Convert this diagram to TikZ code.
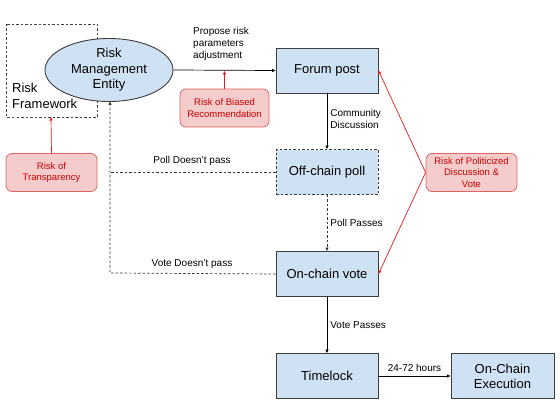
\documentclass[tikz,border=0pt]{standalone}
\usepackage{fontspec}
\setmainfont{Liberation Sans}
\usetikzlibrary{arrows.meta,shapes.geometric}
\definecolor{boxfill}{HTML}{CFE2F3}
\definecolor{boxline}{HTML}{3C3C3C}
\definecolor{riskfill}{HTML}{F4CCCC}
\definecolor{riskline}{HTML}{E06666}
\definecolor{risktext}{HTML}{CC0000}
\definecolor{riskarrow}{HTML}{E02020}
\tikzset{
  x=1pt,y=-1pt,
  stepbox/.style={draw=boxline,fill=boxfill,line width=0.9pt,minimum width=102pt,minimum height=45pt,align=center,font=\fontsize{13}{15.5}\selectfont,inner sep=2pt},
  riskbox/.style={draw=riskline,fill=riskfill,rounded corners=6pt,line width=0.8pt,minimum width=91pt,minimum height=38pt,align=center,text=risktext,font=\fontsize{9.5}{11.3}\selectfont,inner sep=1pt},
  lbl/.style={font=\fontsize{10}{12}\selectfont,align=left,inner sep=0pt},
  conn/.style={draw=black,line width=0.7pt,-{Triangle[length=3.5pt,width=3pt]}},
  dconn/.style={draw=black!80,line width=0.7pt,dash pattern=on 2.5pt off 2pt},
  rconn/.style={draw=riskarrow,line width=0.7pt,-{Triangle[length=3.5pt,width=3pt]}}
}
\begin{document}
\begin{tikzpicture}
\useasboundingbox (0,0) rectangle (560,420);
% risk framework
\draw[draw=black!75,line width=0.8pt,dash pattern=on 2.5pt off 2pt] (6,24) rectangle (97,117);
\node[anchor=west,align=left,inner sep=0pt,font=\fontsize{13}{15.5}\selectfont] (rf) at (12,96) {Risk\\Framework};
\coordinate (rfb) at (51,117);
% ellipse
\node[ellipse,draw=boxline,fill=boxfill,line width=0.9pt,minimum width=128pt,minimum height=63pt,inner sep=0pt,align=center,font=\fontsize{13}{15.5}\selectfont] (rme) at (109,70) {Risk\\Management\\Entity};
% steps
\node[stepbox] (forum) at (327,70.5) {Forum post};
\node[stepbox,dashed,dash pattern=on 2.5pt off 2pt] (poll) at (327,172) {Off-chain poll};
\node[stepbox] (vote) at (327,274) {On-chain vote};
\node[stepbox] (time) at (327,376) {Timelock};
\node[stepbox,minimum width=103pt,font=\fontsize{13}{15}\selectfont] (exec) at (502.5,376) {On-Chain\\Execution};
% risk boxes
\node[riskbox,minimum width=89pt] (rbias) at (224.5,108) {Risk of Biased\\Recommendation};
\node[riskbox] (rtrans) at (51.5,172.5) {Risk of\\Transparency};
\node[riskbox] (rpol) at (471.5,172.5) {Risk of Politicized\\Discussion \&\\Vote};
% main arrows
\draw[conn] (rme.east) -- (forum.west);
\node[lbl,anchor=south west] (prop) at (193,61) {Propose risk\\parameters\\adjustment};
\draw[conn] (forum.south) -- (poll.north) node[lbl,pos=0.45,anchor=west,xshift=3pt] (cd) {Community\\Discussion};
\draw[dconn,-{Triangle[length=3.5pt,width=3pt]}] (poll.south) -- (vote.north) node[lbl,pos=0.5,anchor=west,xshift=3pt] (pp) {Poll Passes};
\draw[conn] (vote.south) -- (time.north) node[lbl,pos=0.5,anchor=west,xshift=3pt] (vp) {Vote Passes};
\draw[conn] (time.east) -- (exec.west) node[lbl,pos=0.5,anchor=south,yshift=4pt] (hrs) {24-72 hours};
% dashed returns
\coordinate (rmeb) at (110,101.5);
\coordinate (c1) at (110,172);
\coordinate (c2) at (110,273);
\draw[dconn,-{Triangle[length=3.5pt,width=3pt]}] (vote.west) -- (c2) -- (rmeb);
\draw[dconn] (poll.west) -- (c1);
\node[lbl,anchor=south] (pdp) at (192,166) {Poll Doesn’t pass};
\node[lbl,anchor=south] (vdp) at (192,269) {Vote Doesn’t pass};
% risk arrows
\coordinate (biasto) at (224.5,71);
\draw[rconn] (rbias.north) -- (biasto);
\draw[rconn] (rtrans.north) -- (rfb);
\draw[rconn] (rpol.west) -- (forum.east);
\draw[rconn] (rpol.west) -- (vote.east);
\end{tikzpicture}
\end{document}
